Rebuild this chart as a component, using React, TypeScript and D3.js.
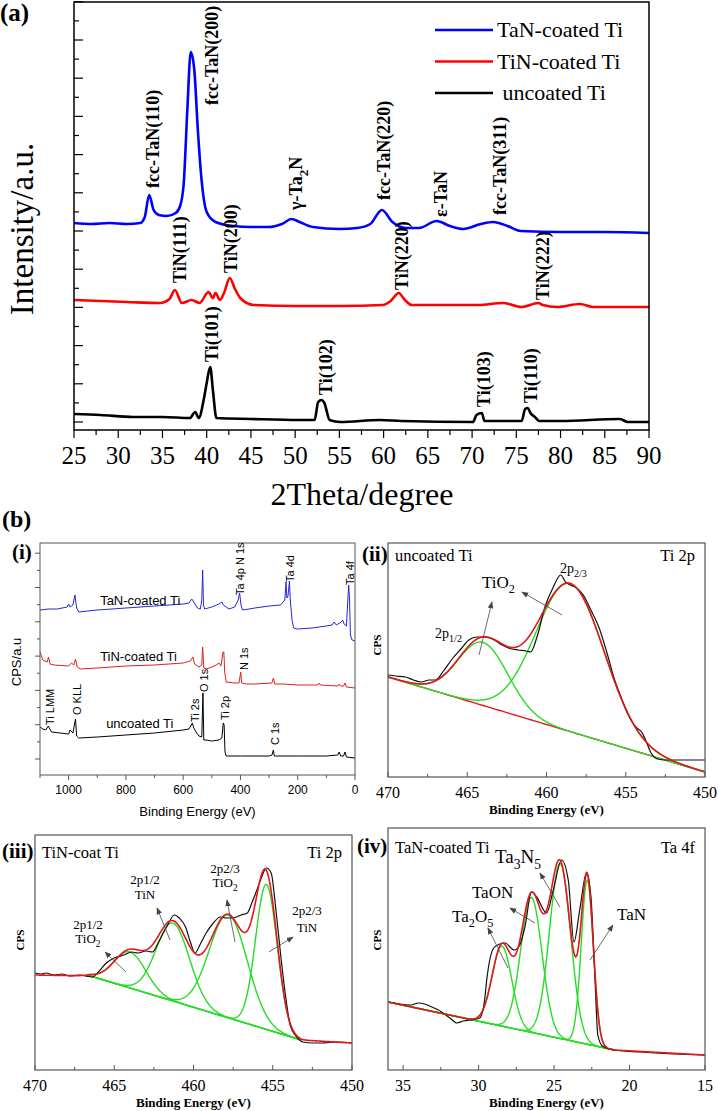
import React from "react";
import * as d3 from "d3";

type Pt = [number, number];
type Peak = { center: number; height: number; sigma: number };

const SERIF = "'Liberation Serif','Times New Roman',serif";
const SANS = "'Liberation Sans',Arial,sans-serif";

// ---------------- (a) XRD data: [2theta, intensity a.u.] ----------------
const XRD_TICK = 38.2;
const xrdTaN: Pt[] = [[25,199],[27,198],[29,199],[31,198],[32.5,199],[33.0,205],[33.5,227],[34.0,212],[34.6,207],[35.5,206],[36.5,209],[37.0,216],[37.4,238],[37.8,310],[38.2,370],[38.6,352],[39.0,292],[39.4,244],[40.0,210],[41.0,200],[43,196],[45,195],[47,195],[48.5,198],[49.6,203],[50.5,200],[52,195],[55,193],[57,194],[58.5,198],[59.8,212],[61,200],[62.5,194],[64,194],[66,201],[67.5,196],[69,193],[71,198],[72.4,200],[74,196],[75.5,191],[80,190],[85,190],[90,189]];
const xrdTiN: Pt[] = [[25,122],[28,121],[31,120],[34.7,119],[35.8,123],[36.4,132],[37.2,119],[38.3,122],[39.2,119],[40.2,130],[40.7,124],[41.0,129],[41.5,122],[42.0,130],[42.6,144],[43.2,133],[43.8,124],[45.3,117],[50,116],[55.1,116],[59.9,117],[60.8,121],[61.7,129],[62.4,122],[63.2,117],[70.7,117],[73.5,119],[75.6,115],[77.5,119],[78,117],[79.6,115],[82.2,118],[83.7,115],[90,115]];
const xrdTi: Pt[] = [[25,8],[28,7],[31.7,5],[35,5],[38.1,4],[38.7,10],[39.1,4],[39.7,24],[40.0,39],[40.4,55],[40.7,32],[41.1,4],[45,3],[50.5,2],[52.2,2],[52.6,20],[53.0,22],[53.3,19],[53.9,2],[55.1,0],[59.6,2],[62,1],[70.1,0],[70.5,7],[71.1,9],[71.4,1],[75.6,1],[76.0,13],[76.3,14],[76.6,9],[77.1,5],[77.6,1],[80,1],[86.7,3],[87.6,0],[90,0]];
const xrdNames = ["TaN-coated Ti", "TiN-coated Ti", "\u00a0uncoated Ti"];
const xrdTicks = [25,30,35,40,45,50,55,60,65,70,75,80,85,90];
const xrdLabels = [
  { text: "fcc-TaN(110)", x: 33.93, y: 234 },
  { text: "fcc-TaN(200)", x: 40.6, y: 317 },
  { text: "\u03b3-Ta_2N", x: 50.1, y: 212 },
  { text: "fcc-TaN(220)", x: 60.05, y: 222 },
  { text: "\u03b5-TaN", x: 66.5, y: 205 },
  { text: "fcc-TaN(311)", x: 73.15, y: 207 },
  { text: "TiN(111)", x: 37.0, y: 139 },
  { text: "TiN(200)", x: 42.75, y: 149 },
  { text: "TiN(220)", x: 62.1, y: 132 },
  { text: "TiN(222)", x: 78.0, y: 122 },
  { text: "Ti(101)", x: 40.6, y: 60 },
  { text: "Ti(102)", x: 53.4, y: 27 },
  { text: "Ti(103)", x: 71.35, y: 15 },
  { text: "Ti(110)", x: 76.65, y: 19 },
];

// ---------------- (b)(i) XPS survey: [binding energy eV, CPS a.u.] ----------------
const surveyTaN: Pt[] = [[1100,165],[1070,166],[1040,166],[1005,168],[1000,171],[995,168],[985,170],[978,180],[972,167],[965,163],[900,165],[800,167],[700,169],[600,171],[580,172],[570,176],[563,173],[550,167],[540,166],[535,175],[532,205],[529,170],[525,166],[500,168],[475,171],[465,173],[460,170],[440,166],[420,168],[408,175],[403,182],[398,170],[393,165],[370,166],[350,167],[300,169],[260,170],[245,175],[241,193],[238,177],[234,179],[229,194],[226,175],[220,155],[214,147],[200,146],[150,147],[100,149],[80,150],[73,153],[65,150],[48,153],[43,155],[38,151],[30,149],[25,175],[22,190],[19,175],[16,140],[10,135],[0,134]];
const surveyTiN: Pt[] = [[1100,123],[1090,115],[1075,113],[1070,118],[1065,111],[1050,110],[1000,109],[990,112],[982,110],[976,116],[970,108],[960,106],[900,107],[800,109],[700,110],[600,112],[575,114],[566,118],[560,111],[545,108],[535,110],[532,128],[528,107],[520,106],[500,108],[485,110],[475,112],[468,109],[461,123],[458,123],[455,103],[450,93],[420,92],[405,92],[399,103],[396,92],[380,91],[350,91],[290,92],[285,97],[280,91],[250,91],[200,90],[130,90],[125,92],[120,90],[60,89],[55,91],[50,89],[40,89],[35,92],[30,88],[0,87]];
const surveyTi: Pt[] = [[1100,48],[1090,46],[1080,45],[1071,49],[1060,43],[1000,41],[995,45],[985,42],[976,56],[972,39],[965,37],[900,38],[800,40],[700,42],[600,45],[580,46],[568,52],[563,47],[555,43],[545,39],[535,38],[531,82],[528,35],[520,35],[500,34],[475,35],[465,37],[460,52],[457,50],[454,23],[450,19],[400,19],[300,19],[290,20],[285,25],[282,19],[200,19],[100,19],[60,20],[55,23],[50,19],[40,19],[35,23],[30,18],[0,17]];
const surveyTicks = [0,200,400,600,800,1000];
const surveyMinor = [100,300,500,700,900,1100];
const surveyYStart = 16;
const surveyYStep = 17.15;
const surveyPeakLabels = [
  { text: "Ta 4p N 1s", e: 399.5, i: 180 },
  { text: "Ta 4d", e: 228, i: 193 },
  { text: "Ta 4f", e: 17.7, i: 190 },
  { text: "N 1s", e: 385.5, i: 105 },
  { text: "O 1s", e: 525.6, i: 83 },
  { text: "Ti LMM", e: 1065, i: 50 },
  { text: "O KLL", e: 970.4, i: 60 },
  { text: "Ti 2s", e: 557, i: 53 },
  { text: "Ti 2p", e: 452, i: 55 },
  { text: "C 1s", e: 280, i: 30 },
];
const surveySeriesLabels = [
  { text: "TaN-coated Ti", e: 890, i: 170 },
  { text: "TiN-coated Ti", e: 890, i: 114 },
  { text: "uncoated Ti", e: 869, i: 47 },
];

// ---------------- (ii) uncoated Ti, Ti 2p ----------------
const ti2pUncData: Pt[] = [[470,102],[469.5,101],[468.9,100],[468.4,97],[467.9,95],[467.4,97],[467.0,97],[466.5,106],[466.0,117],[465.4,128],[464.9,137],[464.4,140],[464.0,140],[463.6,139],[463.3,137],[462.8,132],[462.4,129],[461.8,127],[461.3,126],[461.0,125],[460.6,140],[460.1,170],[459.6,189],[459.1,202],[458.8,195],[458.5,192],[458.2,190],[457.9,186],[457.6,180],[457.2,167],[456.7,150],[456.2,125],[455.7,97],[455.3,80],[454.9,64],[454.6,55],[454.3,49],[454.0,45],[453.8,39],[453.4,24],[453.0,18],[452.5,17],[451.5,17],[450,17]];
const ti2pUncBg: Pt[] = [[470,100],[450,5]];
const ti2pUncPeaks: Peak[] = [
  { center: 464.0, height: 63, sigma: 1.58 },
  { center: 458.5, height: 148, sigma: 2.15 },
];

// ---------------- (iii) TiN-coat Ti, Ti 2p ----------------
const ti2pTiNData: Pt[] = [[470,97],[469.6,96],[469.3,97],[468.8,95],[468.3,96],[467.8,94],[467.2,95],[466.4,93],[466.0,98],[465.5,107],[465.0,112],[464.4,115],[463.9,118],[463.5,117],[463.0,119],[462.6,118],[462.2,128],[461.7,143],[461.2,155],[460.9,152],[460.5,143],[460.2,128],[459.9,117],[459.6,125],[459.2,137],[458.8,146],[458.3,153],[457.9,152],[457.5,152],[457.0,155],[456.6,157],[456.3,168],[456.0,180],[455.7,193],[455.4,202],[455.1,197],[454.8,160],[454.5,115],[454.2,75],[453.9,45],[453.5,33],[453.1,28],[452.5,27],[451.9,27],[451.0,28],[450,27]];
const ti2pTiNBg: Pt[] = [[470,95],[466.5,94],[453.2,30],[450,27]];
const ti2pTiNPeaks: Peak[] = [
  { center: 464.0, height: 36, sigma: 1.0 },
  { center: 461.3, height: 78, sigma: 1.05 },
  { center: 457.8, height: 103, sigma: 1.2 },
  { center: 455.4, height: 145, sigma: 0.68 },
];

// ---------------- (iv) TaN-coated Ti, Ta 4f ----------------
const ta4fData: Pt[] = [[35.9,68],[35.2,66],[34.48,65],[34.0,67],[33.57,66],[33.1,63],[32.66,60],[31.9,52],[31.44,47],[31.0,49],[30.53,50],[29.92,52],[29.6,70],[29.46,90],[29.0,122],[28.6,126],[28.25,127],[27.64,120],[27.3,124],[26.93,143],[26.49,178],[26.15,173],[25.49,157],[25.05,180],[24.5,210],[24.06,190],[23.68,128],[23.3,160],[22.84,198],[22.55,172],[22.3,95],[22.1,35],[21.8,24],[21.1,20],[19.27,18],[17,16],[15,15]];
const ta4fBg: Pt[] = [[36,68],[21,20],[15,15]];
const ta4fPeaks: Peak[] = [
  { center: 28.45, height: 80, sigma: 0.65 },
  { center: 26.5, height: 135, sigma: 0.7 },
  { center: 24.6, height: 175, sigma: 0.7 },
  { center: 22.8, height: 164, sigma: 0.4 },
];

// ---------------- helpers ----------------
const gauss = (e: number, p: Peak) => p.height * Math.exp(-((e - p.center) ** 2) / (2 * p.sigma * p.sigma));
const bgFn = (bg: Pt[]) => d3.scaleLinear().domain(bg.map((d) => d[0])).range(bg.map((d) => d[1])).clamp(true);
const samples = (a: number, b: number, n = 500) => d3.range(n + 1).map((k) => a + ((b - a) * k) / n);

function rich(s: string, fs: number, subScale = 0.72) {
  const parts: { t: string; sub: boolean }[] = [];
  let i = 0;
  let buf = "";
  while (i < s.length) {
    if (s[i] === "_") {
      if (buf) { parts.push({ t: buf, sub: false }); buf = ""; }
      if (s[i + 1] === "{") {
        const j = s.indexOf("}", i + 2);
        parts.push({ t: s.slice(i + 2, j), sub: true });
        i = j + 1;
      } else {
        parts.push({ t: s[i + 1], sub: true });
        i += 2;
      }
    } else { buf += s[i]; i++; }
  }
  if (buf) parts.push({ t: buf, sub: false });
  const shift = fs * 0.3;
  let cur = 0;
  return parts.map((p, k) => {
    const target = p.sub ? shift : 0;
    const dy = target - cur;
    cur = target;
    return (
      <tspan key={k} dy={dy !== 0 ? dy : undefined} fontSize={p.sub ? fs * subScale : fs}>{p.t}</tspan>
    );
  });
}

// ---------------- Panel (a) ----------------
function PanelA() {
  const L = 74, R = 649, T = 2, B = 430;
  const x = d3.scaleLinear().domain([25, 90]).range([L, R]);
  const y = d3.scaleLinear().domain([-8, 420]).range([B, T]);
  const line = d3.line<Pt>().x((d) => x(d[0])).y((d) => y(d[1])).curve(d3.curveMonotoneX);
  const series = [xrdTaN, xrdTiN, xrdTi];
  const colors = ["#0000ff", "#ff0000", "#000000"];
  const majorY = d3.range(0, 12).map((k) => k * XRD_TICK);
  const minorY = d3.range(0, 11).map((k) => (k + 0.5) * XRD_TICK);
  const minorX = d3.range(27.5, 90, 5);
  const fs = 18;
  return (
    <g>
      <defs>
        <clipPath id="clipA"><rect x={L} y={T} width={R - L} height={B - T} /></clipPath>
      </defs>
      <g clipPath="url(#clipA)">
        {series.map((s, k) => (
          <path key={k} d={line(s) || ""} fill="none" stroke={colors[k]} strokeWidth={2.6} strokeLinejoin="round" />
        ))}
      </g>
      <rect x={L} y={T} width={R - L} height={B - T} fill="none" stroke="#000" strokeWidth={1.5} />
      {majorY.map((v, k) => <line key={"my" + k} x1={L} x2={L + 9} y1={y(v)} y2={y(v)} stroke="#000" strokeWidth={1.2} />)}
      {minorY.map((v, k) => <line key={"ny" + k} x1={L} x2={L + 5} y1={y(v)} y2={y(v)} stroke="#000" strokeWidth={1.2} />)}
      {xrdTicks.map((v) => (
        <g key={"xt" + v}>
          <line x1={x(v)} x2={x(v)} y1={B} y2={B + 8} stroke="#000" strokeWidth={1.2} />
          <text x={x(v)} y={B + 34} textAnchor="middle" fontFamily={SERIF} fontSize={25}>{v}</text>
        </g>
      ))}
      {minorX.map((v) => <line key={"nx" + v} x1={x(v)} x2={x(v)} y1={B} y2={B + 5} stroke="#000" strokeWidth={1.2} />)}
      {xrdLabels.map((l, k) => (
        <text key={"lb" + k} transform={`translate(${x(l.x) + 0.35 * fs},${y(l.y)}) rotate(-90)`} fontFamily={SERIF} fontWeight="bold" fontSize={fs}>
          {rich(l.text, fs)}
        </text>
      ))}
      {xrdNames.map((n, k) => {
        const ly = 30 + k * 31.5;
        return (
          <g key={"lg" + k}>
            <line x1={435} x2={493} y1={ly} y2={ly} stroke={colors[k]} strokeWidth={2.5} />
            <text x={497} y={ly + 7} fontFamily={SERIF} fontSize={22}>{n}</text>
          </g>
        );
      })}
      <text transform={`translate(33,229) rotate(-90)`} textAnchor="middle" fontFamily={SERIF} fontSize={33}>Intensity/a.u.</text>
      <text x={362} y={505} textAnchor="middle" fontFamily={SERIF} fontSize={32}>2Theta/degree</text>
      <text x={0} y={21} fontFamily={SERIF} fontWeight="bold" fontSize={25}>(a)</text>
    </g>
  );
}

// ---------------- Panel (i) ----------------
function PanelSurvey() {
  const L = 40, R = 355, T = 543, B = 775;
  const x = d3.scaleLinear().domain([1100, 0]).range([L, R]);
  const y = d3.scaleLinear().domain([0, 232]).range([B, T]);
  const line = d3.line<Pt>().x((d) => x(d[0])).y((d) => y(d[1]));
  const series = [surveyTaN, surveyTiN, surveyTi];
  const colors = ["#2626dd", "#e01e1e", "#000000"];
  const yt = d3.range(0, 13).map((k) => surveyYStart + k * surveyYStep);
  return (
    <g>
      <defs>
        <clipPath id="clipS"><rect x={L} y={T} width={R - L} height={B - T} /></clipPath>
      </defs>
      <g clipPath="url(#clipS)">
        {series.map((s, k) => <path key={k} d={line(s) || ""} fill="none" stroke={colors[k]} strokeWidth={1} />)}
      </g>
      <rect x={L} y={T} width={R - L} height={B - T} fill="none" stroke="#555" strokeWidth={1} />
      {yt.map((v, k) => (
        <line key={"yt" + k} x1={L} x2={L - (k % 2 === 0 ? 5 : 3)} y1={y(v)} y2={y(v)} stroke="#555" strokeWidth={1} />
      ))}
      {surveyTicks.map((v) => (
        <g key={"xt" + v}>
          <line x1={x(v)} x2={x(v)} y1={B} y2={B + 5} stroke="#555" strokeWidth={1} />
          <text x={x(v)} y={B + 19} textAnchor="middle" fontFamily={SANS} fontSize={12}>{v}</text>
        </g>
      ))}
      {surveyMinor.map((v) => <line key={"mx" + v} x1={x(v)} x2={x(v)} y1={B} y2={B + 3} stroke="#555" strokeWidth={1} />)}
      <text x={(L + R) / 2} y={B + 41} textAnchor="middle" fontFamily={SANS} fontSize={13}>Binding Energy (eV)</text>
      <text transform={`translate(21,662) rotate(-90)`} textAnchor="middle" fontFamily={SANS} fontSize={13}>CPS/a.u</text>
      {surveyPeakLabels.map((l, k) => (
        <text key={"pl" + k} transform={`translate(${x(l.e) + 0.35 * 11},${y(l.i)}) rotate(-90)`} fontFamily={SANS} fontSize={11}>{l.text}</text>
      ))}
      {surveySeriesLabels.map((l, k) => (
        <text key={"sl" + k} x={x(l.e)} y={y(l.i)} fontFamily={SANS} fontSize={13}>{l.text}</text>
      ))}
      <text x={12} y={559} fontFamily={SERIF} fontWeight="bold" fontSize={21}>(i)</text>
    </g>
  );
}

// ---------------- Generic high-resolution XPS panel ----------------
type Ann = { t: string; e: number; i: number; fs: number; anchor?: "start" | "middle" | "end" };
type Arrow = { from: Pt; to: Pt };
type XpsCfg = {
  id: string;
  L: number; R: number; T: number; B: number;
  xDomain: [number, number]; yMax: number;
  major: number[]; minor: number[];
  data: Pt[]; bg: Pt[]; peaks: Peak[];
  env: [number, number]; green: [number, number];
  redBg: boolean; greenBg: boolean;
  panelId: string; idX: number; titleY: number;
  titleLeft: string; titleRight: string;
  cpsX: number; cpsY: number;
  texts: Ann[]; arrows: Arrow[];
};

const RED = "#e8141c";
const GREEN = "#25dd25";

function XpsPanel({ c }: { c: XpsCfg }) {
  const x = d3.scaleLinear().domain(c.xDomain).range([c.L, c.R]);
  const y = d3.scaleLinear().domain([0, c.yMax]).range([c.B, c.T]);
  const line = d3.line<Pt>().x((d) => x(d[0])).y((d) => y(d[1]));
  const smooth = d3.line<Pt>().x((d) => x(d[0])).y((d) => y(d[1])).curve(d3.curveMonotoneX);
  const bg = bgFn(c.bg);
  const env: Pt[] = samples(c.env[0], c.env[1]).map((e) => [e, bg(e) + d3.sum(c.peaks, (p) => gauss(e, p))]);
  const greens = c.peaks.map((p) => samples(c.green[0], c.green[1]).map((e) => [e, bg(e) + gauss(e, p)] as Pt));
  const bgLine: Pt[] = samples(c.xDomain[0], c.xDomain[1], 100).map((e) => [e, bg(e)]);
  const greenBgLine: Pt[] = samples(c.green[0], c.green[1], 100).map((e) => [e, bg(e)]);
  const clip = "clip" + c.id;
  return (
    <g>
      <defs>
        <clipPath id={clip}><rect x={c.L} y={c.T} width={c.R - c.L} height={c.B - c.T} /></clipPath>
      </defs>
      <g clipPath={`url(#${clip})`}>
        {c.redBg && <path d={line(bgLine) || ""} fill="none" stroke={RED} strokeWidth={1.4} />}
        {c.greenBg && <path d={line(greenBgLine) || ""} fill="none" stroke={GREEN} strokeWidth={1.4} />}
        {greens.map((g, k) => <path key={k} d={line(g) || ""} fill="none" stroke={GREEN} strokeWidth={1.4} />)}
        <path d={smooth(c.data) || ""} fill="none" stroke="#111" strokeWidth={1.2} />
        <path d={line(env) || ""} fill="none" stroke={RED} strokeWidth={1.6} />
      </g>
      <rect x={c.L} y={c.T} width={c.R - c.L} height={c.B - c.T} fill="none" stroke="#555" strokeWidth={1.2} />
      {c.major.map((v) => (
        <g key={"mj" + v}>
          <line x1={x(v)} x2={x(v)} y1={c.B} y2={c.B - 5} stroke="#555" strokeWidth={1} />
          <text x={x(v)} y={c.B + 21} textAnchor="middle" fontFamily={SERIF} fontSize={16}>{v}</text>
        </g>
      ))}
      {c.minor.map((v) => <line key={"mn" + v} x1={x(v)} x2={x(v)} y1={c.B} y2={c.B - 3} stroke="#555" strokeWidth={1} />)}
      <text x={(c.L + c.R) / 2} y={c.B + 37} textAnchor="middle" fontFamily={SERIF} fontWeight="bold" fontSize={13}>Binding Energy (eV)</text>
      <text transform={`translate(${c.cpsX},${c.cpsY}) rotate(-90)`} textAnchor="middle" fontFamily={SERIF} fontWeight="bold" fontSize={11}>CPS</text>
      <text x={c.idX} y={c.titleY} fontFamily={SERIF} fontWeight="bold" fontSize={21}>{c.panelId}</text>
      <text x={c.L + 7} y={c.titleY} fontFamily={SERIF} fontSize={16.5}>{c.titleLeft}</text>
      <text x={c.R - 10} y={c.titleY} textAnchor="end" fontFamily={SERIF} fontSize={16.5}>{c.titleRight}</text>
      {c.texts.map((t, k) => (
        <text key={"tx" + k} x={x(t.e)} y={y(t.i)} textAnchor={t.anchor || "start"} fontFamily={SERIF} fontSize={t.fs}>{rich(t.t, t.fs)}</text>
      ))}
      {c.arrows.map((a, k) => (
        <line key={"ar" + k} x1={x(a.from[0])} y1={y(a.from[1])} x2={x(a.to[0])} y2={y(a.to[1])} stroke="#444" strokeWidth={0.8} markerEnd="url(#arrowHead)" />
      ))}
    </g>
  );
}

const cfgII: XpsCfg = {
  id: "ii", L: 388, R: 705, T: 543, B: 777, xDomain: [470, 450], yMax: 234,
  major: [470, 465, 460, 455, 450], minor: [467.5, 462.5, 457.5, 452.5],
  data: ti2pUncData, bg: ti2pUncBg, peaks: ti2pUncPeaks,
  env: [470, 450], green: [470, 450], redBg: true, greenBg: false,
  panelId: "(ii)", idX: 362, titleY: 561, titleLeft: "uncoated Ti", titleRight: "Ti 2p",
  cpsX: 381, cpsY: 645,
  texts: [
    { t: "TiO_2", e: 464.07, i: 189, fs: 17 },
    { t: "2p_{1/2}", e: 467.03, i: 139, fs: 14 },
    { t: "2p_{2/3}", e: 459.15, i: 204, fs: 14 },
  ],
  arrows: [
    { from: [464.26, 122], to: [463.44, 175] },
    { from: [459.02, 162], to: [461.55, 185] },
  ],
};

const cfgIII: XpsCfg = {
  id: "iii", L: 35, R: 352, T: 835, B: 1070, xDomain: [470, 450], yMax: 235,
  major: [470, 465, 460, 455, 450], minor: [467.5, 462.5, 457.5, 452.5],
  data: ti2pTiNData, bg: ti2pTiNBg, peaks: ti2pTiNPeaks,
  env: [470, 450], green: [466.8, 453.2], redBg: false, greenBg: true,
  panelId: "(iii)", idX: 2, titleY: 858, titleLeft: "TiN-coat Ti", titleRight: "Ti 2p",
  cpsX: 24, cpsY: 940,
  texts: [
    { t: "2p1/2", e: 463.06, i: 186, fs: 13, anchor: "middle" },
    { t: "TiN", e: 463.06, i: 171, fs: 13, anchor: "middle" },
    { t: "2p2/3", e: 458.01, i: 197, fs: 13, anchor: "middle" },
    { t: "TiO_2", e: 458.01, i: 183, fs: 13, anchor: "middle" },
    { t: "2p2/3", e: 452.84, i: 155, fs: 13, anchor: "middle" },
    { t: "TiN", e: 452.84, i: 138, fs: 13, anchor: "middle" },
    { t: "2p1/2", e: 466.66, i: 141, fs: 13, anchor: "middle" },
    { t: "TiO_2", e: 466.66, i: 127, fs: 13, anchor: "middle" },
  ],
  arrows: [
    { from: [461.48, 130], to: [462.3, 162] },
    { from: [457.38, 128], to: [457.89, 170] },
    { from: [455.24, 118], to: [453.72, 133] },
    { from: [464.26, 98], to: [465.58, 118] },
  ],
};

const cfgIV: XpsCfg = {
  id: "iv", L: 388, R: 705, T: 828, B: 1070, xDomain: [36, 15], yMax: 242,
  major: [35, 30, 25, 20, 15], minor: [32.5, 27.5, 22.5, 17.5],
  data: ta4fData, bg: ta4fBg, peaks: ta4fPeaks,
  env: [36, 15], green: [36, 21], redBg: false, greenBg: true,
  panelId: "(iv)", idX: 357, titleY: 853, titleLeft: "TaN-coated Ti", titleRight: "Ta 4f",
  cpsX: 381, cpsY: 940,
  texts: [
    { t: "Ta_3N_5", e: 28.91, i: 207, fs: 19 },
    { t: "TaON", e: 30.44, i: 172, fs: 17 },
    { t: "Ta_2O_5", e: 31.76, i: 148, fs: 17 },
    { t: "TaN", e: 20.83, i: 150, fs: 17 },
  ],
  arrows: [
    { from: [24.61, 163], to: [25.93, 197] },
    { from: [26.26, 147], to: [27.92, 162] },
    { from: [28.05, 102], to: [29.38, 142] },
    { from: [22.62, 110], to: [21.1, 145] },
  ],
};

export default function App() {
  return (
    <svg width={718} height={1111} viewBox="0 0 718 1111" style={{ position: "absolute", left: 0, top: 0, background: "#fff" }}>
      <rect width={718} height={1111} fill="#fff" />
      <defs>
        <marker id="arrowHead" viewBox="0 0 10 10" refX="9" refY="5" markerUnits="userSpaceOnUse" markerWidth="7" markerHeight="7" orient="auto">
          <path d="M0,1 L10,5 L0,9 z" fill="#444" />
        </marker>
      </defs>
      <PanelA />
      <text x={2} y={527} fontFamily={SERIF} fontWeight="bold" fontSize={24}>(b)</text>
      <PanelSurvey />
      <XpsPanel c={cfgII} />
      <XpsPanel c={cfgIII} />
      <XpsPanel c={cfgIV} />
    </svg>
  );
}
